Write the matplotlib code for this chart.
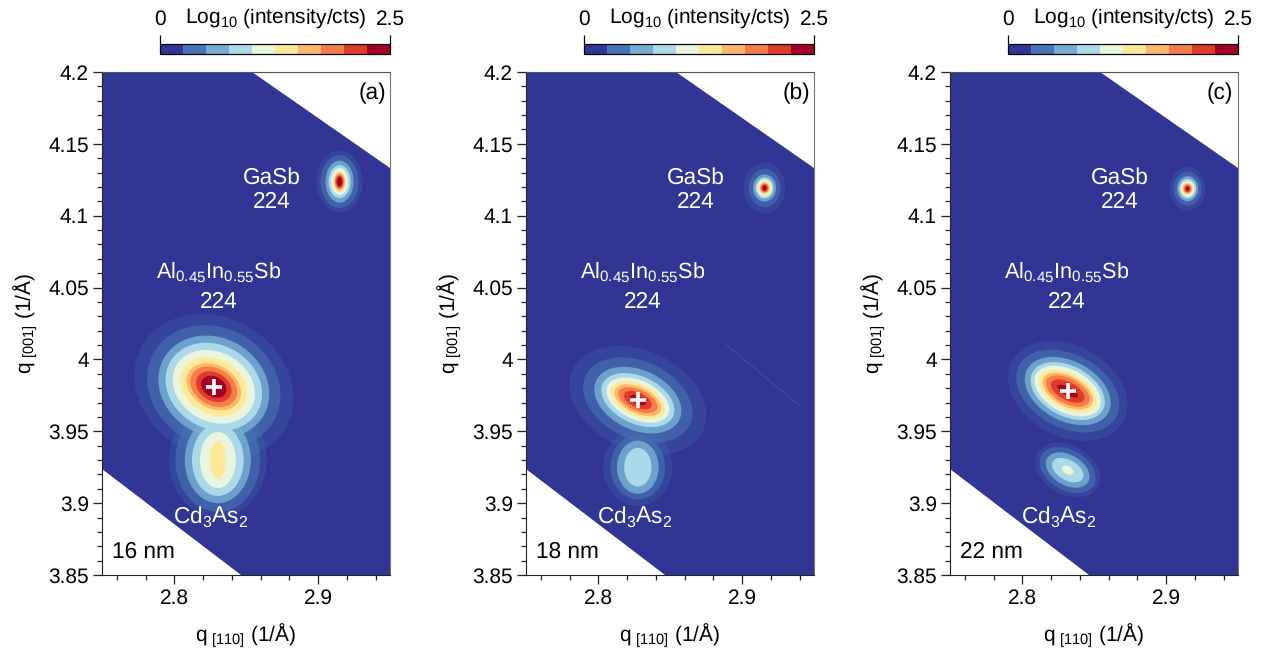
import matplotlib
matplotlib.use("Agg")
import matplotlib.pyplot as plt
from matplotlib.colors import ListedColormap, BoundaryNorm
from matplotlib.cm import ScalarMappable
from matplotlib.patches import Ellipse
from matplotlib.ticker import MultipleLocator

plt.rcParams['font.family'] = ['Liberation Sans', 'DejaVu Sans']
plt.rcParams['mathtext.fontset'] = 'custom'
plt.rcParams['mathtext.rm'] = 'Liberation Sans'
plt.rcParams['mathtext.default'] = 'rm'
plt.rcParams['text.hinting'] = 'no_hinting'

# 10 colour classes of the log intensity scale
level_colors = ['#313695', '#4575b4', '#74add1', '#abd9e9', '#e9f5dc',
                '#fee99a', '#fdb96a', '#f67c4a', '#df3b2a', '#a50026']
scale_limits = [0, 2.5]

panel_tags = ['(a)', '(b)', '(c)']
thickness_labels = ['16 nm', '18 nm', '22 nm']

y_tick_values = [3.85, 3.9, 3.95, 4, 4.05, 4.1, 4.15, 4.2]
y_tick_labels = ['3.85', '3.9', '3.95', '4', '4.05', '4.1', '4.15', '4.2']
x_tick_values = [2.8, 2.9]
x_tick_labels = ['2.8', '2.9']

# corners of the region the detector did not cover
top_cut_q110 = [2.854, 2.95, 2.95]
top_cut_q001 = [4.2, 4.2, 4.133]
bottom_cut_q110 = [2.7496, 2.7496, 2.8465]
bottom_cut_q001 = [3.924, 3.85, 3.85]

# buffer peak centres, read from the white crosses
buffer_q110 = [2.8274, 2.8274, 2.8315]
buffer_q001 = [3.981, 3.9717, 3.978]
buffer_angle = [-30, -25, -28]
# full axes of each contour (1/A): sparse-count halo first, then classes 1, 2, ...
buffer_contours = [
    [(.1150, .0960), (.0960, .0820), (.0800, .0680), (.0700, .0580), (.0600, .0480), (.0490, .0385),
     (.0403, .0299), (.0348, .0257), (.0264, .0195), (.0188, .0139)],
    [(.1000, .0690), (.0800, .0540), (.0640, .0417), (.0540, .0330), (.0466, .0271), (.0403, .0222),
     (.0348, .0181), (.0292, .0146), (.0209, .0104), (.0125, .0056)],
    [(.0880, .0630), (.0765, .0510), (.0640, .0417), (.0556, .0348), (.0500, .0299), (.0438, .0243),
     (.0382, .0209), (.0334, .0174), (.0257, .0125), (.0160, .0056)],
]

# Cd3As2 peaks
film_q110 = [2.8302, 2.8274, 2.8315]
film_q001 = [3.930, 3.925, 3.923]
film_angle = [0, 0, -30]
film_contours = [
    [(.0680, .0800), (.0590, .0720), (.0460, .0600), (.0360, .0500), (.0250, .0390), (.0110, .0260)],
    [(.0480, .0540), (.0380, .0450), (.0290, .0370), (.0190, .0270)],
    [(.0480, .0340), (.0420, .0280), (.0330, .0210), (.0240, .0140), (.0085, .0055)],
]

# GaSb substrate peaks
substrate_q110 = [2.9149, 2.9156, 2.9149]
substrate_q001 = [4.1237, 4.1193, 4.1188]
substrate_contours = [
    [(.0320, .0430), (.0264, .0368), (.0195, .0292), (.0153, .0229), (.0118, .0188), (.0090, .0146),
     (.0076, .0125), (.0063, .0104), (.0049, .0083), (.0035, .0069)],
    [(.0290, .0350), (.0222, .0264), (.0160, .0188), (.0125, .0146), (.0104, .0118), (.0083, .0097),
     (.0069, .0076), (.0056, .0063), (.0042, .0049), (.0028, .0035)],
    [(.0250, .0300), (.0195, .0236), (.0146, .0174), (.0118, .0139), (.0097, .0111), (.0080, .0090),
     (.0066, .0073), (.0052, .0059), (.0038, .0045), (.0024, .0028)],
]

# faint streak seen only in panel (b)
streak_q110 = [2.8890, 2.9400]
streak_q001 = [4.0100, 3.9680]

# low classes are noisy in the measurement, so they are painted see-through
contour_alpha = {0: 0.25, 1: 0.6, 2: 0.85}

W, H = 1265, 651
panel_left = [102, 526, 950]


def px_axes(fig, left, top, width, height):
    return fig.add_axes([left / W, 1 - (top + height) / H, width / W, height / H])


def contour_list(x, y, angle, sizes):
    return [(k, x, y, w, h, angle) for k, (w, h) in enumerate(sizes)]


fig = plt.figure(figsize=(W / 100, H / 100), dpi=100)

for i, left in enumerate(panel_left):
    ax = px_axes(fig, left, 72, 288, 503)
    ax.set_facecolor(level_colors[0])
    ax.set_xlim(2.7496, 2.95)
    ax.set_ylim(3.85, 4.2)

    # overlapping peaks: paint every contour in order of its class
    contours = contour_list(buffer_q110[i], buffer_q001[i], buffer_angle[i], buffer_contours[i])
    contours += contour_list(film_q110[i], film_q001[i], film_angle[i], film_contours[i])
    contours += contour_list(substrate_q110[i], substrate_q001[i], 0, substrate_contours[i])
    for level, x, y, w, h, angle in sorted(contours, key=lambda c: c[0]):
        ax.add_patch(Ellipse((x, y), w, h, angle=angle, facecolor=level_colors[max(level, 1)],
                             edgecolor='none', alpha=contour_alpha.get(level, 1)))

    if i == 1:
        ax.plot(streak_q110, streak_q001, color=level_colors[1], lw=0.8, alpha=0.35)

    ax.fill(top_cut_q110, top_cut_q001, color='white', lw=0)
    ax.fill(bottom_cut_q110, bottom_cut_q001, color='white', lw=0)

    ax.plot(buffer_q110[i], buffer_q001[i], marker='+', color='white', ms=11, mew=2.6)

    ax.set_xticks(x_tick_values, x_tick_labels)
    ax.set_yticks(y_tick_values, y_tick_labels)
    ax.xaxis.set_minor_locator(MultipleLocator(0.02))
    ax.yaxis.set_minor_locator(MultipleLocator(0.01))
    ax.tick_params(which='major', length=6.5, width=0.9, labelsize=15, pad=3, color='#222222')
    ax.tick_params(which='minor', length=3.6, width=0.9, color='#222222')
    ax.spines['top'].set_color('#555555')
    ax.spines['right'].set_color('#777777')
    ax.spines['left'].set_color('#222222')
    ax.spines['bottom'].set_color('#222222')
    ax.set_xlabel(r'q$_{\ [110]}$ (1/Å)', fontsize=15, labelpad=10)
    ax.set_ylabel(r'q$_{\ [001]}$ (1/Å)', fontsize=15, labelpad=6)

    label_style = dict(color='white', ha='center', va='center')
    for text, dx, ty, size in [('GaSb', 170, 178, 16.3), ('224', 170, 202, 16.3),
                               ('Al$_{0.45}$In$_{0.55}$Sb', 117, 272, 15.6), ('224', 117, 302, 16.3),
                               ('Cd$_3$As$_2$', 109, 517, 16.3)]:
        fig.text((left + dx) / W, 1 - ty / H, text, fontsize=size, **label_style)
    fig.text((left + 41) / W, 1 - 552 / H, thickness_labels[i], fontsize=16.3, ha='center', va='center')
    fig.text((left + 270) / W, 1 - 93 / H, panel_tags[i], fontsize=16.3, ha='center', va='center')

    # colour scale above the panel
    cax = px_axes(fig, left + 58, 44, 230, 10)
    bounds = [scale_limits[0] + k * (scale_limits[1] - scale_limits[0]) / 10 for k in range(11)]
    cb = fig.colorbar(ScalarMappable(norm=BoundaryNorm(bounds, 10), cmap=ListedColormap(level_colors)),
                      cax=cax, orientation='horizontal', spacing='proportional')
    cb.set_ticks(scale_limits, labels=['0', '2.5'])
    cb.minorticks_off()
    cax.xaxis.set_ticks_position('top')
    cax.tick_params(length=6.5, width=0.9, labelsize=15, pad=4)
    cb.outline.set_linewidth(0.9)
    fig.text((left + 174) / W, 1 - 18 / H, 'Log$_{10}$ (intensity/cts)', fontsize=15,
             ha='center', va='center')

fig.savefig('out.png', dpi=100)
